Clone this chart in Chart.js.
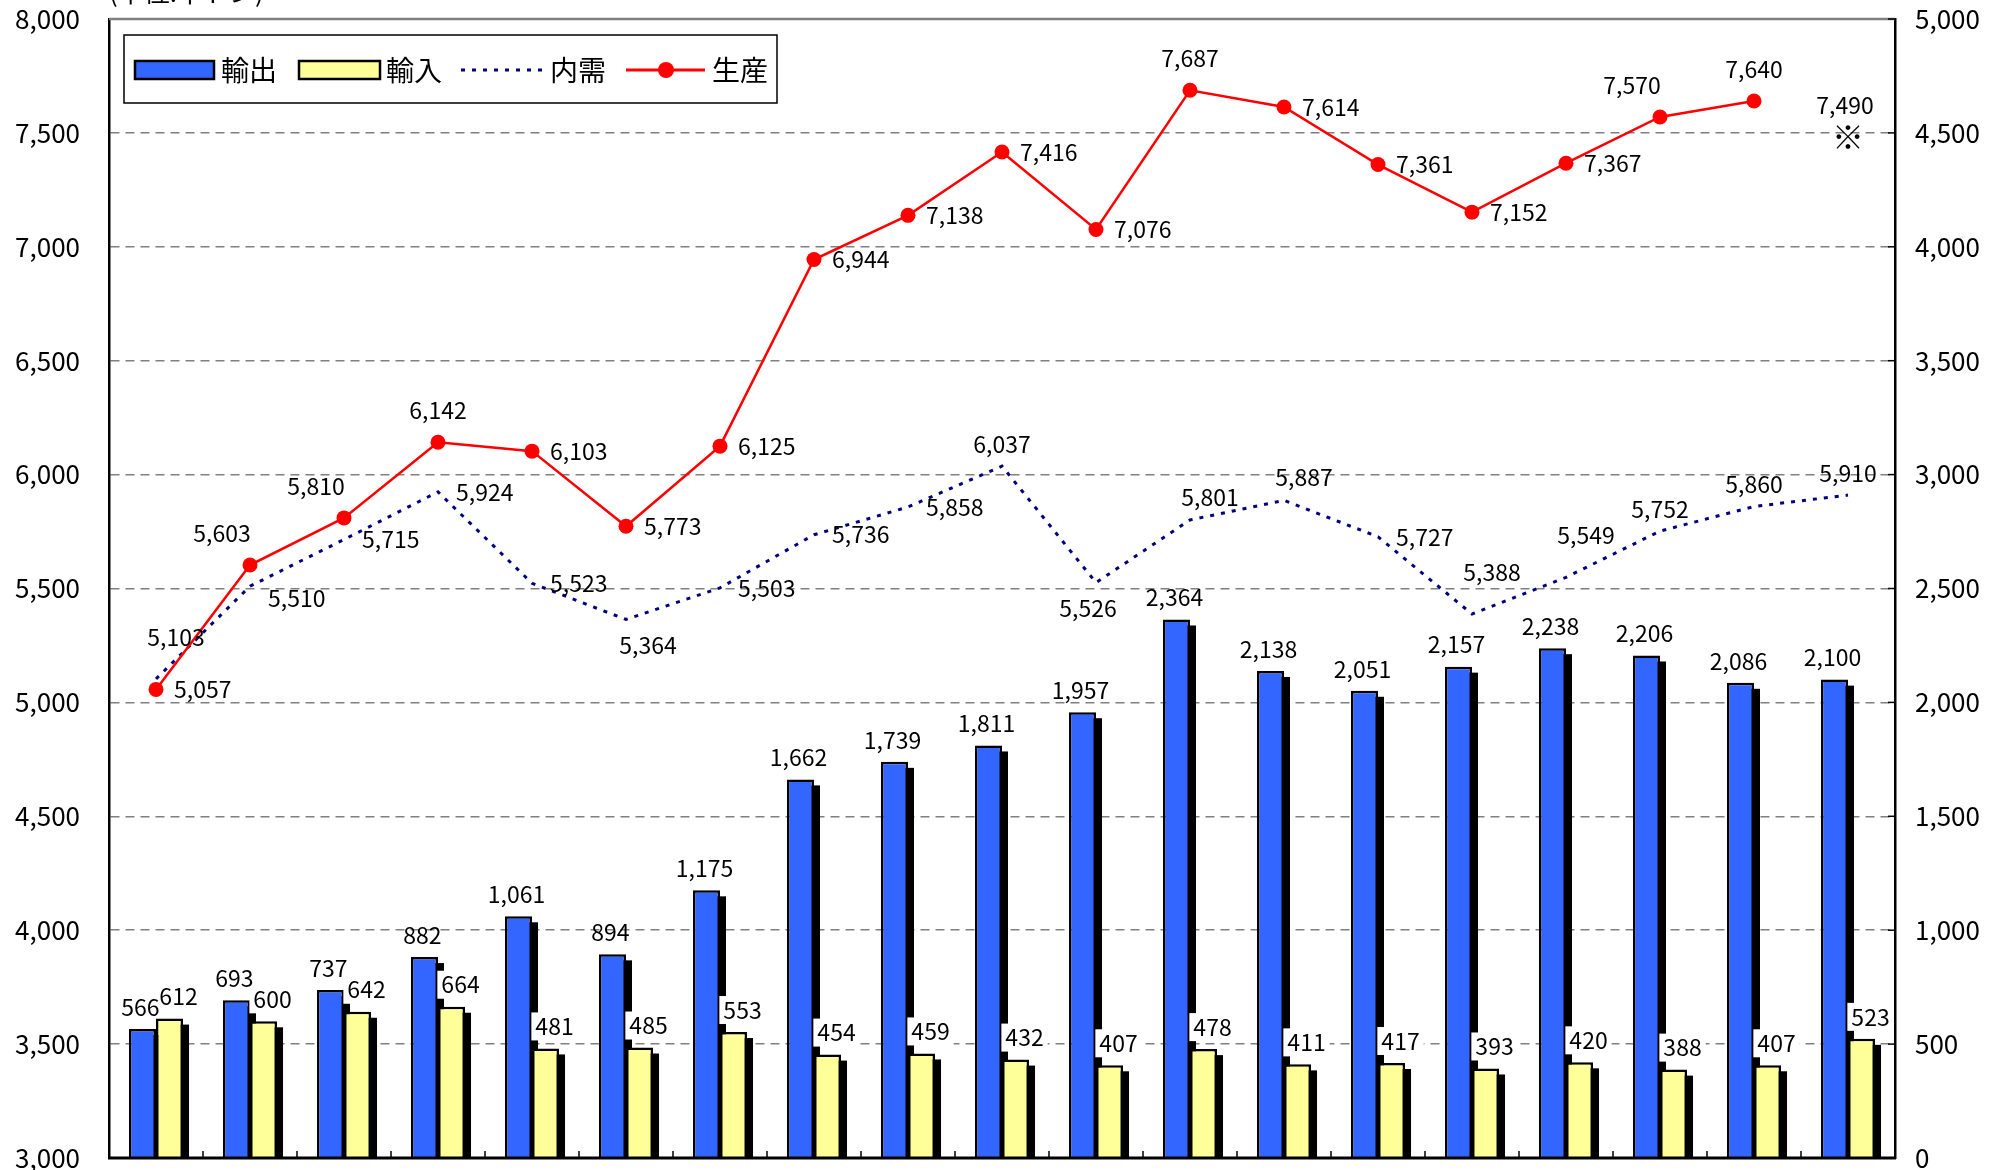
<!DOCTYPE html>
<html lang="ja">
<head>
<meta charset="utf-8">
<title>生産・内需・輸出入</title>
<script src="https://cdn.jsdelivr.net/npm/chart.js@4.4.1/dist/chart.umd.min.js"></script>
<style>
  html, body { margin: 0; padding: 0; background: #fff; }
  canvas { display: block; }
</style>
</head>
<body>
<canvas id="chart" width="2011" height="1170"></canvas>
<script>
// 19 periods (no axis labels on the picture)
const categories = ['1', '2', '3', '4', '5', '6', '7', '8', '9', '10',
                    '11', '12', '13', '14', '15', '16', '17', '18', '19'];

const exportVals = [566, 693, 737, 882, 1061, 894, 1175, 1662, 1739, 1811,
                    1957, 2364, 2138, 2051, 2157, 2238, 2206, 2086, 2100];
const importVals = [612, 600, 642, 664, 481, 485, 553, 454, 459, 432,
                    407, 478, 411, 417, 393, 420, 388, 407, 523];
const demandVals = [5103, 5510, 5715, 5924, 5523, 5364, 5503, 5736, 5858, 6037,
                    5526, 5801, 5887, 5727, 5388, 5549, 5752, 5860, 5910];
const productionVals = [5057, 5603, 5810, 6142, 6103, 5773, 6125, 6944, 7138, 7416,
                        7076, 7687, 7614, 7361, 7152, 7367, 7570, 7640, null];
// last year is an estimate, drawn as ※
const estimateVals = [null, null, null, null, null, null, null, null, null, null,
                      null, null, null, null, null, null, null, null, 7490];

const leftTicks = [3000, 3500, 4000, 4500, 5000, 5500, 6000, 6500, 7000, 7500, 8000];
const rightTicks = [0, 500, 1000, 1500, 2000, 2500, 3000, 3500, 4000, 4500, 5000];

// where each line label sits relative to its point
const prodLabelPos = ['r', 'tl', 'tl', 'T', 'r', 'r', 'r', 'r', 'r', 'r',
                      'r', 'T', 'r', 'r', 'r', 'r', 'tl', 'T', null];
const demandLabelPos = ['tt', 'rb', 'r', 'r', 'r', 'br', 'r', 'r', 'r', 't',
                        'b', 'tr', 'tr', 'r', 'tt', 'tt', 't', 't', 't'];

const OFFS = {
  r:  [18, 0, 'left'],
  rb: [18, 12, 'left'],
  t:  [0, -22, 'center'],
  T:  [0, -32, 'center'],
  tt: [20, -42, 'center'],
  tr: [20, -23, 'center'],
  tl: [-28, -32, 'center'],
  b:  [-8, 26, 'center'],
  br: [22, 26, 'center']
};

const FONT = '"Noto Sans CJK JP", "Noto Sans", sans-serif';
Chart.defaults.font.family = FONT;
Chart.defaults.color = '#000';

const fmt = v => v.toLocaleString('en-US');

// black drop shadow behind every bar
const barShadow = {
  id: 'barShadow',
  beforeDatasetsDraw(chart) {
    const ctx = chart.ctx, a = chart.chartArea;
    ctx.save();
    ctx.beginPath();
    ctx.rect(a.left, a.top, a.right - a.left, a.bottom - a.top);
    ctx.clip();
    ctx.fillStyle = '#000';
    [0, 1].forEach(d => {
      chart.getDatasetMeta(d).data.forEach(el => {
        ctx.fillRect(el.x - el.width / 2 + 6, el.y + 6, el.width, el.base - el.y);
      });
    });
    ctx.restore();
  }
};

const decorations = {
  id: 'decorations',
  afterDatasetsDraw(chart) {
    const ctx = chart.ctx, a = chart.chartArea;
    ctx.save();
    // frame
    ctx.strokeStyle = '#808080';
    ctx.lineWidth = 2.5;
    ctx.beginPath(); ctx.moveTo(a.left, a.top); ctx.lineTo(a.right, a.top); ctx.stroke();
    ctx.strokeStyle = '#000';
    ctx.lineWidth = 3;
    ctx.beginPath(); ctx.moveTo(a.left - 1, a.bottom); ctx.lineTo(a.right + 1, a.bottom); ctx.stroke();
    // category ticks pointing up
    ctx.lineWidth = 1.5;
    const cw = (a.right - a.left) / categories.length;
    for (let k = 1; k < categories.length; k++) {
      const x = a.left + k * cw;
      ctx.beginPath(); ctx.moveTo(x, a.bottom); ctx.lineTo(x, a.bottom - 7); ctx.stroke();
    }
    // right axis ticks pointing in
    const y2 = chart.scales.y2;
    rightTicks.forEach(v => {
      const y = y2.getPixelForValue(v);
      ctx.beginPath(); ctx.moveTo(a.right, y); ctx.lineTo(a.right - 7, y); ctx.stroke();
    });

    ctx.font = '23px ' + FONT;
    ctx.textBaseline = 'middle';

    // import labels (white box)
    chart.getDatasetMeta(1).data.forEach((el, i) => {
      const t = fmt(importVals[i]);
      const w = ctx.measureText(t).width;
      const cx = el.x + 9, cy = el.y - 22;
      ctx.fillStyle = '#fff';
      ctx.fillRect(cx - w / 2 - 4, cy - 14, w + 8, 28);
      ctx.fillStyle = '#000';
      ctx.textAlign = 'center';
      ctx.fillText(t, cx, cy);
    });
    // export labels
    chart.getDatasetMeta(0).data.forEach((el, i) => {
      ctx.textAlign = 'center';
      ctx.fillText(fmt(exportVals[i]), el.x - 2, el.y - 22);
    });
    // line labels
    const lineLabels = (d, vals, pos) => {
      chart.getDatasetMeta(d).data.forEach((el, i) => {
        if (vals[i] == null || !pos[i]) return;
        const o = OFFS[pos[i]];
        ctx.textAlign = o[2];
        ctx.fillText(fmt(vals[i]), el.x + o[0], el.y + o[1]);
      });
    };
    ctx.fillStyle = '#000';
    lineLabels(2, demandVals, demandLabelPos);
    lineLabels(3, productionVals, prodLabelPos);

    // estimate mark
    chart.getDatasetMeta(4).data.forEach((el, i) => {
      if (estimateVals[i] == null) return;
      ctx.textAlign = 'center';
      ctx.fillText(fmt(estimateVals[i]), el.x - 3, el.y - 30);
      ctx.font = '32px ' + FONT;
      ctx.fillText('※', el.x, el.y + 2);
      ctx.font = '23px ' + FONT;
    });
    ctx.restore();
  },
  afterDraw(chart) {
    const ctx = chart.ctx;
    ctx.save();
    // unit text (cut off at the top)
    ctx.font = '26px ' + FONT;
    ctx.fillStyle = '#000';
    ctx.textAlign = 'left';
    ctx.textBaseline = 'alphabetic';
    ctx.fillText('(単位:千トン)', 109, 2);

    // legend
    ctx.fillStyle = '#fff';
    ctx.fillRect(124, 35, 653, 68);
    ctx.strokeStyle = '#000';
    ctx.lineWidth = 1.5;
    ctx.strokeRect(124, 35, 653, 68);
    const cy = 70;
    ctx.lineWidth = 2.5;
    ctx.fillStyle = '#3366FF';
    ctx.fillRect(135, cy - 9, 79, 18); ctx.strokeRect(135, cy - 9, 79, 18);
    ctx.fillStyle = '#FFFF99';
    ctx.fillRect(299, cy - 9, 81, 18); ctx.strokeRect(299, cy - 9, 81, 18);
    ctx.strokeStyle = '#000080';
    ctx.lineWidth = 3;
    ctx.setLineDash([4, 7]);
    ctx.beginPath(); ctx.moveTo(461, cy); ctx.lineTo(545, cy); ctx.stroke();
    ctx.setLineDash([]);
    ctx.strokeStyle = '#FF0000';
    ctx.beginPath(); ctx.moveTo(626, cy); ctx.lineTo(705, cy); ctx.stroke();
    ctx.fillStyle = '#FF0000';
    ctx.beginPath(); ctx.arc(666, cy, 8, 0, Math.PI * 2); ctx.fill();
    ctx.fillStyle = '#000';
    ctx.font = '28px ' + FONT;
    ctx.textBaseline = 'middle';
    ctx.fillText('輸出', 221, cy);
    ctx.fillText('輸入', 386, cy);
    ctx.fillText('内需', 550, cy);
    ctx.fillText('生産', 712, cy);
    ctx.restore();
  }
};

const ctx = document.getElementById('chart').getContext('2d');

const myChart = new Chart(ctx, {
  type: 'bar',
  data: {
    labels: categories,
    datasets: [
      {
        label: '輸出',
        data: exportVals,
        yAxisID: 'y2',
        backgroundColor: '#3366FF',
        borderColor: '#000',
        borderWidth: 2.5,
        categoryPercentage: 0.575,
        barPercentage: 1.0,
        order: 3
      },
      {
        label: '輸入',
        data: importVals,
        yAxisID: 'y2',
        backgroundColor: '#FFFF99',
        borderColor: '#000',
        borderWidth: 2.5,
        categoryPercentage: 0.575,
        barPercentage: 1.0,
        order: 3
      },
      {
        type: 'line',
        label: '内需',
        data: demandVals,
        yAxisID: 'y',
        borderColor: '#000080',
        borderWidth: 3,
        borderDash: [4, 7],
        pointRadius: 0,
        tension: 0,
        fill: false,
        order: 2
      },
      {
        type: 'line',
        label: '生産',
        data: productionVals,
        yAxisID: 'y',
        borderColor: '#FF0000',
        borderWidth: 2.5,
        pointRadius: 7.5,
        pointBackgroundColor: '#FF0000',
        pointBorderWidth: 0,
        tension: 0,
        fill: false,
        order: 1
      },
      {
        type: 'line',
        label: '推計',
        data: estimateVals,
        yAxisID: 'y',
        showLine: false,
        pointRadius: 0,
        order: 0
      }
    ]
  },
  options: {
    responsive: false,
    animation: false,
    layout: { padding: { top: 19, bottom: 12, left: 0, right: 0 } },
    scales: {
      x: { display: false, offset: true },
      y: {
        position: 'left',
        min: 3000,
        max: 8000,
        afterBuildTicks: s => { s.ticks = leftTicks.map(v => ({ value: v })); },
        afterFit: s => { s.width = 109; s.paddingTop = 0; s.paddingBottom = 0; },
        ticks: { color: '#000', font: { size: 26 }, padding: 29, callback: v => fmt(v) },
        grid: { color: '#808080', lineWidth: 1.5, drawTicks: false },
        border: { display: true, color: '#000', width: 2.5, dash: [9, 6] }
      },
      y2: {
        position: 'right',
        min: 0,
        max: 5000,
        afterBuildTicks: s => { s.ticks = rightTicks.map(v => ({ value: v })); },
        afterFit: s => { s.width = 116; s.paddingTop = 0; s.paddingBottom = 0; },
        ticks: { color: '#000', font: { size: 26 }, padding: 20, callback: v => fmt(v) },
        grid: { drawOnChartArea: false, drawTicks: false },
        border: { display: true, color: '#000', width: 2.5 }
      }
    },
    plugins: {
      legend: { display: false },
      tooltip: { enabled: false }
    }
  },
  plugins: [barShadow, decorations]
});
</script>
</body>
</html>
